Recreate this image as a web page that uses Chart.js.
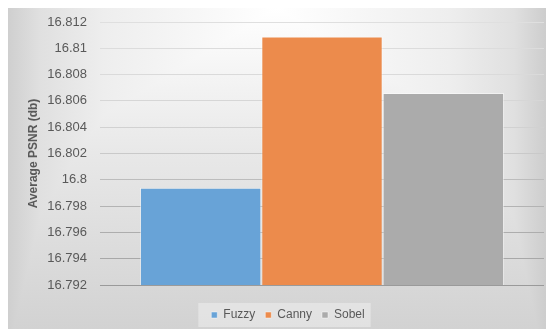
<!DOCTYPE html>
<html>
<head>
<meta charset="utf-8">
<script src="https://cdn.jsdelivr.net/npm/chart.js@4/dist/chart.umd.min.js"></script>
<style>
    html, body { margin: 0; padding: 0; background: #ffffff; }
    #wrap { position: relative; width: 546px; height: 329px; }
</style>
</head>
<body>
<div id="wrap"><canvas id="chartPsnr" width="546" height="329"></canvas></div>
<script>
// Datos del gráfico
const categorias = [''];
const metodos = ['Fuzzy', 'Canny', 'Sobel'];
const psnrPromedio = [16.7994, 16.8109, 16.8066];
const coloresMetodo = ['#68a3d7', '#ec8b4c', '#ababab'];
const ejeYMin = 16.792;
const ejeYMax = 16.812;
const ejeYPaso = 0.002;

// Colores de las líneas de cuadrícula (de abajo hacia arriba)
const coloresGrid = ['#9a9a9a', '#a8a8a8', '#adadad', '#b3b3b3', '#bcbcbc',
    '#c9c9c9', '#d1d1d1', '#d6d6d6', '#dadada', '#dcdcdc', '#dfdfdf'];

// Fondo con degradado tipo Excel + caja de la leyenda
const fondoPlugin = {
    id: 'fondo',
    afterLayout(chart) {
        // mover la leyenda un poco (derecha y abajo), como en el original
        if (chart.legend) {
            chart.legend.left += 12;
            chart.legend.right += 12;
            chart.legend.top += 2;
            chart.legend.bottom += 2;
        }
    },
    beforeDraw(chart) {
        const ctx = chart.ctx;
        const x0 = 8, y0 = 8, x1 = chart.width, y1 = chart.height;
        ctx.save();
        const gh = ctx.createLinearGradient(x0, 0, x1, 0);
        gh.addColorStop(0, '#cfcfcf');
        gh.addColorStop(0.06, '#e0e0e0');
        gh.addColorStop(0.18, '#eeeeee');
        gh.addColorStop(0.5, '#ffffff');
        gh.addColorStop(0.82, '#eeeeee');
        gh.addColorStop(0.94, '#e0e0e0');
        gh.addColorStop(1, '#cdcdcd');
        ctx.fillStyle = gh;
        ctx.fillRect(x0, y0, x1 - x0, y1 - y0);
        ctx.globalCompositeOperation = 'darken';
        const gv = ctx.createLinearGradient(0, y0, 0, y1);
        gv.addColorStop(0, '#ffffff');
        gv.addColorStop(0.45, '#e8e8e8');
        gv.addColorStop(1, '#d2d2d2');
        ctx.fillStyle = gv;
        ctx.fillRect(x0, y0, x1 - x0, y1 - y0);
        ctx.globalCompositeOperation = 'source-over';

        // caja clara detrás de la leyenda
        const cajas = chart.legend && chart.legend.legendHitBoxes;
        if (cajas && cajas.length) {
            const izq = Math.min(...cajas.map(b => b.left)) - 13;
            const der = Math.max(...cajas.map(b => b.left + b.width)) + 6;
            const arriba = Math.min(...cajas.map(b => b.top)) - 6;
            const abajo = Math.max(...cajas.map(b => b.top + b.height)) + 6;
            ctx.fillStyle = 'rgba(255,255,255,0.35)';
            ctx.fillRect(izq, arriba, der - izq, abajo - arriba);
        }
        ctx.restore();
    }
};

const ctx = document.getElementById('chartPsnr').getContext('2d');

new Chart(ctx, {
    type: 'bar',
    data: {
        labels: categorias,
        datasets: metodos.map((m, i) => ({
            label: m,
            data: [psnrPromedio[i]],
            backgroundColor: coloresMetodo[i],
            borderColor: 'rgba(255,255,255,0.45)',
            borderWidth: 1,
            categoryPercentage: 0.82,
            barPercentage: 1
        }))
    },
    options: {
        responsive: false,
        animation: false,
        devicePixelRatio: 1,
        layout: {
            padding: { left: 8, top: 22, right: 2, bottom: 0 }
        },
        scales: {
            x: {
                display: true,
                grid: { display: false },
                border: { display: false },
                ticks: { display: false },
                afterFit: scale => { scale.height = 12; }
            },
            y: {
                min: ejeYMin,
                max: ejeYMax,
                afterFit: scale => { scale.width = 92; },
                ticks: {
                    stepSize: ejeYPaso,
                    padding: 13,
                    color: '#595959',
                    font: { family: 'Liberation Sans', size: 13 },
                    callback: v => parseFloat(Number(v).toFixed(3)).toString()
                },
                grid: {
                    drawTicks: false,
                    lineWidth: 1,
                    color: c => coloresGrid[c.index] || '#dddddd'
                },
                border: { display: false },
                title: {
                    display: true,
                    text: 'Average PSNR (db)',
                    color: '#595959',
                    padding: { top: 18, bottom: 0 },
                    font: { family: 'Liberation Sans', size: 12, weight: 'bold' }
                }
            }
        },
        plugins: {
            legend: {
                position: 'bottom',
                labels: {
                    boxWidth: 6,
                    boxHeight: 6,
                    padding: 10,
                    color: '#595959',
                    font: { family: 'Liberation Sans', size: 12 }
                }
            },
            tooltip: { enabled: false }
        }
    },
    plugins: [fondoPlugin]
});
</script>
</body>
</html>
